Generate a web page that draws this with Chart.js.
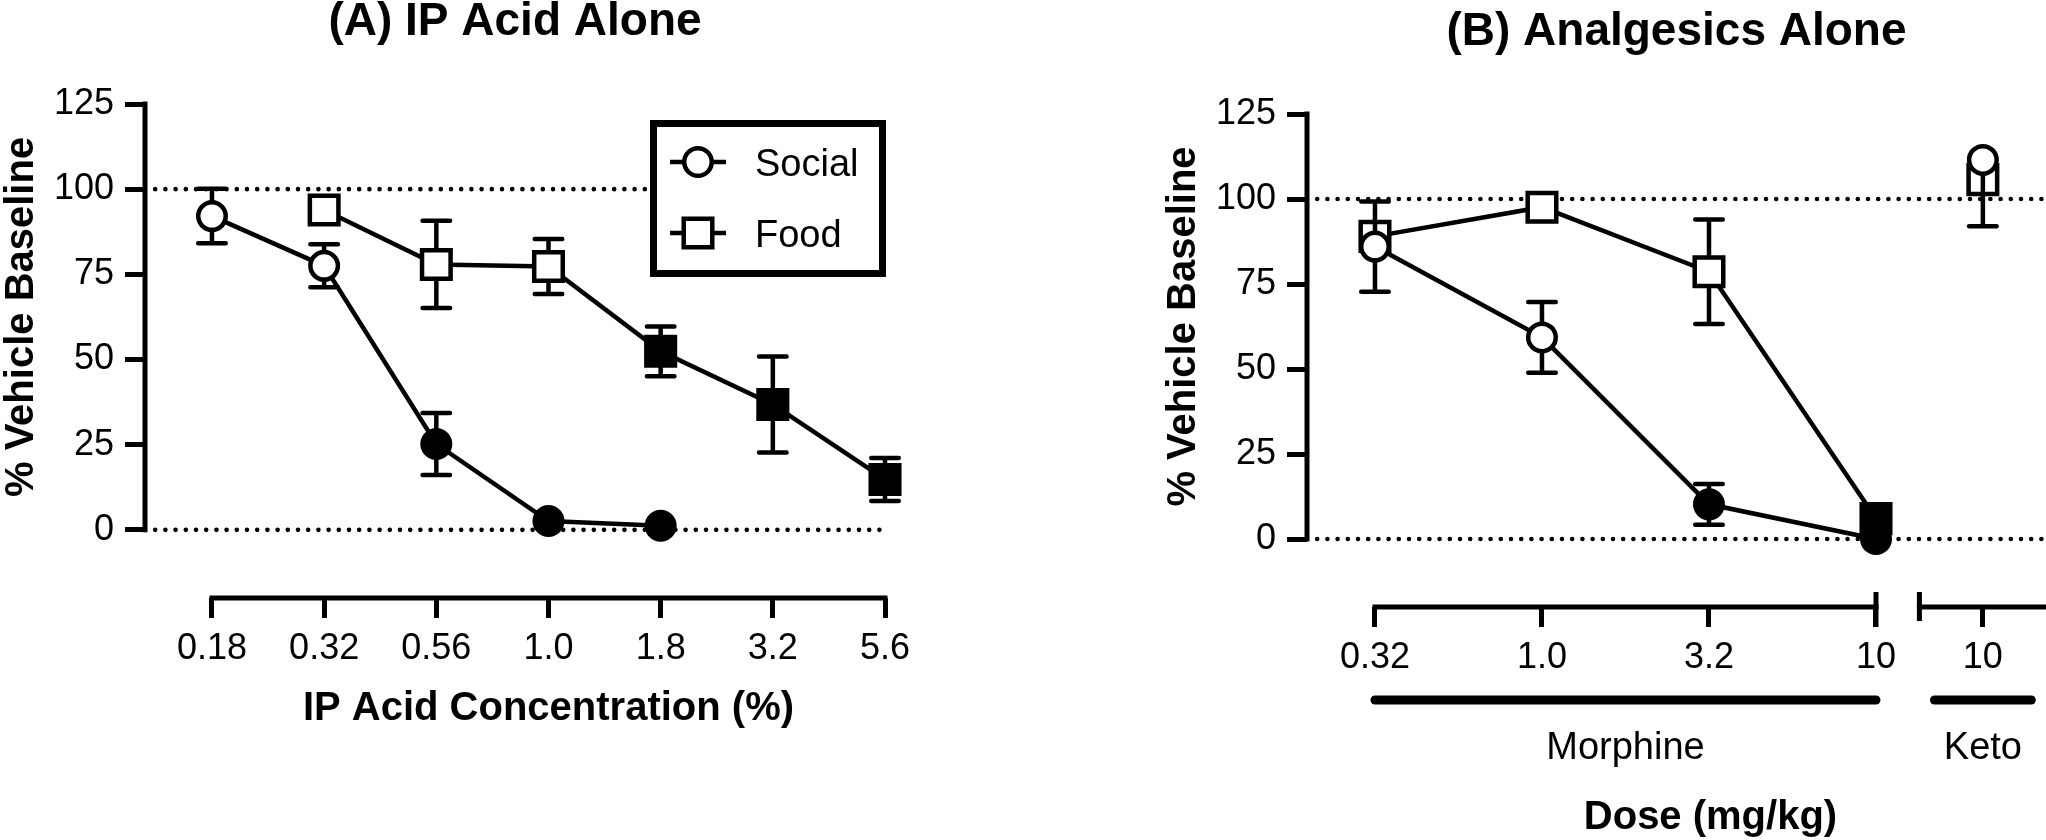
<!DOCTYPE html>
<html>
<head>
<meta charset="utf-8">
<title>IP Acid Alone / Analgesics Alone</title>
<script src="https://cdn.jsdelivr.net/npm/chart.js@4.4.1/dist/chart.umd.min.js"></script>
<style>
  html, body { margin: 0; padding: 0; background: #fff; }
  #wrap { position: relative; width: 2046px; height: 840px; overflow: hidden; }
  canvas { position: absolute; top: 0; }
  #chartA { left: 0; }
  #chartB { left: 1000px; }
</style>
</head>
<body>
<div id="wrap">
  <canvas id="chartA" width="1000" height="840" style="width:1000px;height:840px"></canvas>
  <canvas id="chartB" width="1046" height="840" style="width:1046px;height:840px"></canvas>
</div>
<script>
// ---- panel A: IP acid alone ----
const acidDoses = ['0.18', '0.32', '0.56', '1.0', '1.8', '3.2', '5.6']
const acidSocial = [92.1, 77.5, 25.2, 2.6, 1.2, null, null]
const acidSocialSem = [8, 6.3, 9.1, 0, 0, null, null]
const acidSocialSig = [false, false, true, true, true, false, false]
const acidFood = [null, 93.9, 77.9, 77.3, 52.4, 36.8, 14.8]
const acidFoodSem = [null, 0, 12.8, 8.1, 7.3, 14.1, 6.3]
const acidFoodSig = [false, false, false, false, true, true, true]

// ---- panel B: analgesics alone ----
const morphineDoses = ['0.32', '1.0', '3.2', '10']
const morphineSocial = [86, 59.3, 10.2, 0]
const morphineSocialSem = [13.3, 10.4, 6, 0]
const morphineSocialSig = [false, false, true, true]
const morphineFood = [89, 97.6, 78.6, 6]
const morphineFoodSem = [4, 3.5, 15.4, 1]
const morphineFoodSig = [false, false, false, true]
const ketoDoses = ['10']
const ketoSocial = [111.5]
const ketoSocialDown = [19.5]   // only the lower arm is visible
const ketoFood = [105.7]

const yTicks = [0, 25, 50, 75, 100, 125]
const refLines = [100, 0]

const FONT = "'Liberation Sans', Arial, Helvetica, sans-serif"
const LW = 4.5
const CIRC_R = 13.75
const SQ_R = 20.2
const CAP = 13.75
const KETO_X = 3.64     // keto sits after the axis break

function makeSeries(xs, values, down, up, sig, style) {
    const pts = [], fill = [], dn = [], upv = []
    values.forEach((v, i) => {
        if (v == null) return
        pts.push({ x: xs[i], y: v })
        fill.push(sig[i] ? '#000' : '#fff')
        dn.push(down ? (down[i] || 0) : 0)
        upv.push(up ? (up[i] || 0) : 0)
    })
    return {
        data: pts, errDown: dn, errUp: upv,
        borderColor: '#000', borderWidth: LW, tension: 0, fill: false,
        pointStyle: style, pointRadius: style === 'rect' ? SQ_R : CIRC_R,
        pointHoverRadius: style === 'rect' ? SQ_R : CIRC_R,
        pointBorderWidth: LW, pointBorderColor: '#000', pointBackgroundColor: fill,
        clip: false
    }
}

function refLine(v, x0, x1) {
    return {
        data: [{ x: x0, y: v }, { x: x1, y: v }],
        borderColor: '#000', borderWidth: 4.6, borderDash: [0, 10.2],
        borderCapStyle: 'round', pointRadius: 0, clip: false
    }
}

function scalesFor(xMin, xMax, xVals, xLabels, yWidth, xHeight) {
    return {
        x: {
            type: 'linear', min: xMin, max: xMax,
            afterBuildTicks: s => { s.ticks = xVals.map(v => ({ value: v })) },
            afterFit: s => { s.height = xHeight; s.paddingLeft = 0; s.paddingRight = 0 },
            border: { display: false },
            grid: { drawOnChartArea: false, drawTicks: true, tickLength: 20, lineWidth: 5, color: '#000' },
            ticks: {
                autoSkip: false, maxRotation: 0, padding: 9, color: '#000',
                font: { family: FONT, size: 36 },
                callback: (v, i) => xLabels[i]
            }
        },
        y: {
            min: -20, max: 125,
            afterBuildTicks: s => { s.ticks = yTicks.map(v => ({ value: v })) },
            afterFit: s => { s.width = yWidth; s.paddingTop = 0; s.paddingBottom = 0 },
            border: { display: false },
            grid: { drawOnChartArea: false, drawTicks: true, tickLength: 20, lineWidth: 5, color: '#000' },
            ticks: { padding: 11, color: '#000', font: { family: FONT, size: 36 } }
        }
    }
}

// axes lines, titles, legend, group bars and error bars
function makeDecor(cfg) {
    return {
        id: 'decor',
        beforeDatasetDraw(chart, args) {
            const ds = chart.data.datasets[args.index]
            if (!ds.errDown) return
            const { ctx } = chart, x = chart.scales.x, y = chart.scales.y
            ctx.save()
            ctx.strokeStyle = '#000'
            ctx.lineWidth = LW
            ds.data.forEach((p, i) => {
                const lo = ds.errDown[i], hi = ds.errUp[i]
                if (!lo && !hi) return
                const px = x.getPixelForValue(p.x)
                const yLo = y.getPixelForValue(p.y - lo), yHi = y.getPixelForValue(p.y + hi)
                ctx.lineCap = 'butt'
                ctx.beginPath(); ctx.moveTo(px, yLo); ctx.lineTo(px, yHi); ctx.stroke()
                ctx.lineCap = 'round'
                ctx.beginPath()
                if (lo) { ctx.moveTo(px - CAP, yLo); ctx.lineTo(px + CAP, yLo) }
                if (hi) { ctx.moveTo(px - CAP, yHi); ctx.lineTo(px + CAP, yHi) }
                ctx.stroke()
            })
            ctx.restore()
        },
        afterDraw(chart) {
            const { ctx, chartArea: ca } = chart, x = chart.scales.x, y = chart.scales.y
            const px = v => x.getPixelForValue(v)
            ctx.save()
            ctx.fillStyle = '#000'
            ctx.strokeStyle = '#000'

            // y axis only over 0..125
            ctx.lineWidth = 5
            ctx.lineCap = 'square'
            ctx.beginPath()
            ctx.moveTo(ca.left, y.getPixelForValue(yTicks[0]))
            ctx.lineTo(ca.left, y.getPixelForValue(yTicks[yTicks.length - 1]))
            ctx.stroke()

            // x axis segments
            cfg.segments.forEach(([a, b]) => {
                ctx.beginPath()
                ctx.moveTo(px(a), ca.bottom)
                ctx.lineTo(b == null ? ca.right : px(b), ca.bottom)
                ctx.stroke()
            })
            ctx.lineCap = 'butt'
            ;(cfg.breaks || []).forEach(([v, up, dn]) => {
                ctx.beginPath()
                ctx.moveTo(px(v), ca.bottom - up)
                ctx.lineTo(px(v), ca.bottom + dn)
                ctx.stroke()
            })

            // group bars + labels
            ;(cfg.groups || []).forEach(g => {
                ctx.lineWidth = 9
                ctx.lineCap = 'round'
                ctx.beginPath()
                ctx.moveTo(px(g.from), ca.bottom + 93)
                ctx.lineTo(px(g.to), ca.bottom + 93)
                ctx.stroke()
                ctx.font = '38px ' + FONT
                ctx.textAlign = 'center'
                ctx.textBaseline = 'alphabetic'
                ctx.fillText(g.label, px((g.from + g.to) / 2), ca.bottom + 152)
            })

            // panel title
            ctx.font = 'bold 46px ' + FONT
            ctx.textAlign = 'center'
            ctx.textBaseline = 'alphabetic'
            ctx.fillText(cfg.title, (ca.left + ca.right) / 2, ca.top - 69)

            // x title
            ctx.font = 'bold 40px ' + FONT
            ctx.fillText(cfg.xTitle, (px(cfg.firstX) + ca.right) / 2, ca.bottom + cfg.xTitleDy)

            // y title
            ctx.save()
            ctx.translate(ca.left - 112, y.getPixelForValue((yTicks[0] + yTicks[yTicks.length - 1]) / 2))
            ctx.rotate(-Math.PI / 2)
            ctx.fillText('% Vehicle Baseline', 0, 0)
            ctx.restore()

            // legend box
            if (cfg.legend) {
                const L = cfg.legend
                ctx.fillStyle = '#fff'
                ctx.fillRect(L.x, L.y, L.w, L.h)
                ctx.lineWidth = 7
                ctx.strokeRect(L.x + 3.5, L.y + 3.5, L.w - 7, L.h - 7)
                L.items.forEach((it, k) => {
                    const cy = L.y + 42 + k * 71
                    ctx.lineWidth = LW
                    ctx.beginPath(); ctx.moveTo(L.x + 20, cy); ctx.lineTo(L.x + 76, cy); ctx.stroke()
                    ctx.fillStyle = '#fff'
                    ctx.beginPath()
                    if (it.style === 'circle') ctx.arc(L.x + 48, cy, CIRC_R, 0, Math.PI * 2)
                    else {
                        const h = SQ_R * Math.SQRT1_2
                        ctx.rect(L.x + 48 - h, cy - h, 2 * h, 2 * h)
                    }
                    ctx.fill(); ctx.stroke()
                    ctx.fillStyle = '#000'
                    ctx.font = '38px ' + FONT
                    ctx.textAlign = 'left'
                    ctx.fillText(it.label, L.x + 105, cy + 14)
                })
            }
            ctx.restore()
        }
    }
}

Chart.defaults.font.family = FONT
Chart.defaults.color = '#000'

// ---- panel A chart ----
const xsA = acidDoses.map((d, i) => i)
const xMinA = -0.597, xMaxA = acidDoses.length - 1
new Chart(document.querySelector('#chartA'), {
    type: 'line',
    data: {
        datasets: [
            makeSeries(xsA, acidSocial, acidSocialSem, acidSocialSem, acidSocialSig, 'circle'),
            makeSeries(xsA, acidFood, acidFoodSem, acidFoodSem, acidFoodSig, 'rect'),
            ...refLines.map(v => refLine(v, xMinA, xMaxA))
        ]
    },
    options: {
        responsive: false, animation: false, devicePixelRatio: 1, events: [],
        layout: { autoPadding: false, padding: { left: 0, right: 115, top: 104, bottom: 0 } },
        plugins: { legend: { display: false }, tooltip: { enabled: false } },
        scales: scalesFor(xMinA, xMaxA, xsA, acidDoses, 145, 242)
    },
    plugins: [makeDecor({
        title: '(A) IP Acid Alone',
        xTitle: 'IP Acid Concentration (%)', xTitleDy: 122, firstX: 0,
        segments: [[0, xMaxA]],
        legend: {
            x: 650, y: 120, w: 236, h: 157,
            items: [{ label: 'Social', style: 'circle' }, { label: 'Food', style: 'rect' }]
        }
    })]
})

// ---- panel B chart ----
const xsMorphine = morphineDoses.map((d, i) => i)
const xsKeto = [KETO_X]
const xMinB = -0.407, xMaxB = 4.018
new Chart(document.querySelector('#chartB'), {
    type: 'line',
    data: {
        datasets: [
            makeSeries(xsMorphine, morphineSocial, morphineSocialSem, morphineSocialSem, morphineSocialSig, 'circle'),
            makeSeries(xsKeto, ketoSocial, ketoSocialDown, null, [false], 'circle'),
            makeSeries(xsMorphine, morphineFood, morphineFoodSem, morphineFoodSem, morphineFoodSig, 'rect'),
            makeSeries(xsKeto, ketoFood, null, null, [false], 'rect'),
            ...refLines.map(v => refLine(v, xMinB, xMaxB))
        ]
    },
    options: {
        responsive: false, animation: false, devicePixelRatio: 1, events: [],
        layout: { autoPadding: false, padding: { left: 0, right: 0, top: 114, bottom: 0 } },
        plugins: { legend: { display: false }, tooltip: { enabled: false } },
        scales: scalesFor(xMinB, xMaxB, [...xsMorphine, ...xsKeto], [...morphineDoses, ...ketoDoses], 307, 233)
    },
    plugins: [makeDecor({
        title: '(B) Analgesics Alone',
        xTitle: 'Dose (mg/kg)', xTitleDy: 222, firstX: 0,
        segments: [[0, 3], [3.26, null]],
        breaks: [[3, 15, 20], [3.26, 15, 14]],
        groups: [
            { label: 'Morphine', from: 0, to: 3 },
            { label: 'Keto', from: KETO_X - 0.29, to: KETO_X + 0.29 }
        ]
    })]
})
</script>
</body>
</html>
